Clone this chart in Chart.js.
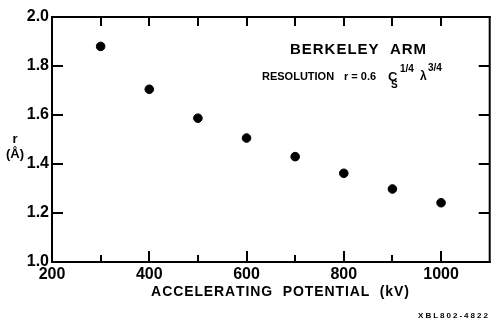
<!DOCTYPE html>
<html>
<head>
<meta charset="utf-8">
<script src="https://cdn.jsdelivr.net/npm/chart.js"></script>
<style>
  html, body { margin: 0; padding: 0; background: #fff; }
  #wrap { width: 495px; height: 320px; }
</style>
</head>
<body>
<div id="wrap"><canvas id="chart"></canvas></div>
<script>
// accelerating potential (kV) and resolution r (Å)
const potentials = [300, 400, 500, 600, 700, 800, 900, 1000];
const resolution = [1.88, 1.705, 1.587, 1.506, 1.43, 1.362, 1.298, 1.242];
const xTickValues = [200, 400, 600, 800, 1000];
const xMinorTicks = [300, 500, 700, 900];
const yTickValues = [1.0, 1.2, 1.4, 1.6, 1.8, 2.0];

const FONT = 'Liberation Sans';

// draw text one character at a time with extra spacing, centred on x
function spacedText(ctx, text, x, y, gap) {
    const chars = text.split('');
    const widths = chars.map(c => ctx.measureText(c).width);
    const total = widths.reduce((a, w) => a + w, 0) + gap * (chars.length - 1);
    let cx = x - total / 2;
    ctx.textAlign = 'left';
    chars.forEach((c, i) => {
        ctx.fillText(c, cx, y);
        cx += widths[i] + gap;
    });
}

// inward tick marks on all four sides
const tickPlugin = {
    id: 'inwardTicks',
    afterDraw(chart) {
        const ctx = chart.ctx;
        const a = chart.chartArea;
        const xs = chart.scales.x;
        const ys = chart.scales.y;
        ctx.save();
        ctx.fillStyle = '#000';
        for (const v of xTickValues) {
            const px = Math.round(xs.getPixelForValue(v));
            ctx.fillRect(px - 1, a.bottom - 11, 2, 11);
            ctx.fillRect(px - 1, a.top, 2, 9);
        }
        for (const v of xMinorTicks) {
            const px = Math.round(xs.getPixelForValue(v));
            ctx.fillRect(px - 1, a.bottom - 7, 2, 7);
            ctx.fillRect(px - 1, a.top, 2, 9);
        }
        for (const v of yTickValues) {
            const py = Math.round(ys.getPixelForValue(v));
            ctx.fillRect(a.left, py - 1, 11, 2);
            ctx.fillRect(a.right - 11, py - 1, 11, 2);
        }
        ctx.restore();
    }
};

// frame plus the annotations
const framePlugin = {
    id: 'frame',
    afterDraw(chart) {
        const ctx = chart.ctx;
        const area = chart.chartArea;
        ctx.save();
        ctx.fillStyle = '#000';
        ctx.fillRect(area.left - 1, area.top - 1, area.right - area.left + 2, 2);
        ctx.fillRect(area.left - 1, area.bottom - 1, area.right - area.left + 2, 2);
        ctx.fillRect(area.left - 1, area.top - 1, 2, area.bottom - area.top + 2);
        ctx.fillRect(area.right - 1, area.top - 1, 2, area.bottom - area.top + 2);

        ctx.textBaseline = 'middle';
        // x axis title
        ctx.font = 'bold 14px ' + FONT;
        spacedText(ctx, 'ACCELERATING  POTENTIAL  (kV)', 280, 292, 0.9);

        // y axis label
        ctx.textAlign = 'center';
        ctx.font = 'bold 13px ' + FONT;
        ctx.fillText('r', 15, 139);
        ctx.fillText('(Å)', 15, 154);

        // title block
        ctx.font = 'bold 15px ' + FONT;
        spacedText(ctx, 'BERKELEY  ARM', 358, 50, 1);

        ctx.textAlign = 'left';
        const y = 77;
        ctx.font = 'bold 11px ' + FONT;
        ctx.fillText('RESOLUTION', 262, y);
        ctx.fillText('r = 0.6', 344, y);
        ctx.font = 'bold 13px ' + FONT;
        ctx.fillText('C', 388, y);
        ctx.font = 'bold 10px ' + FONT;
        ctx.fillText('S', 391, y + 8);
        ctx.fillText('1/4', 400, y - 8);
        ctx.font = 'bold 12px ' + FONT;
        ctx.fillText('λ', 420, y);
        ctx.font = 'bold 10px ' + FONT;
        ctx.fillText('3/4', 428, y - 9);

        // figure code
        ctx.font = 'bold 8px ' + FONT;
        spacedText(ctx, 'XBL802-4822', 453, 316, 2);
        ctx.restore();
    }
};

new Chart(document.getElementById('chart'), {
    type: 'scatter',
    data: {
        datasets: [{
            label: 'r',
            data: potentials.map((p, i) => ({ x: p, y: resolution[i] })),
            backgroundColor: '#000',
            borderColor: '#000',
            pointRadius: 4.3,
            pointHoverRadius: 4.3
        }]
    },
    options: {
        responsive: true,
        maintainAspectRatio: false,
        animation: false,
        layout: { padding: { top: 17, right: 4, left: 0, bottom: 0 } },
        plugins: {
            legend: { display: false },
            tooltip: { enabled: false }
        },
        scales: {
            x: {
                type: 'linear',
                min: 200,
                max: 1100,
                afterBuildTicks: s => { s.ticks = xTickValues.map(v => ({ value: v })); },
                afterFit: s => { s.height = 58; },
                grid: { display: false, drawTicks: false },
                border: { display: false },
                ticks: {
                    color: '#000',
                    padding: 3,
                    maxRotation: 0,
                    callback: v => String(v),
                    font: { family: FONT, size: 16, weight: 'bold' }
                }
            },
            y: {
                type: 'linear',
                min: 1.0,
                max: 2.0,
                afterBuildTicks: s => { s.ticks = yTickValues.map(v => ({ value: v })); },
                afterFit: s => { s.width = 52; },
                grid: { display: false, drawTicks: false },
                border: { display: false },
                ticks: {
                    color: '#000',
                    padding: 3,
                    callback: v => v.toFixed(1),
                    font: { family: FONT, size: 16, weight: 'bold' }
                }
            }
        }
    },
    plugins: [framePlugin, tickPlugin]
});
</script>
</body>
</html>
